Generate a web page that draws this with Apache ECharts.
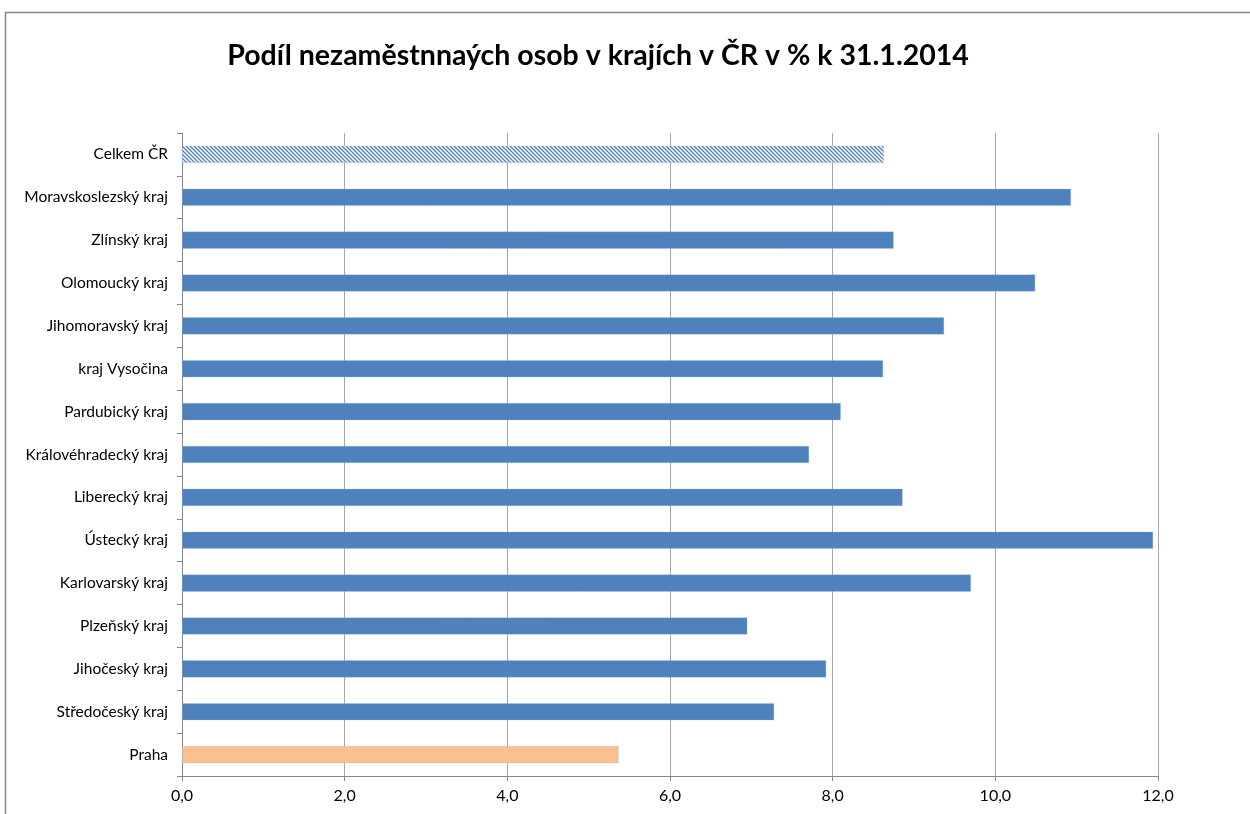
<!DOCTYPE html>
<html>
<head>
<meta charset="utf-8">
<script src="https://cdn.jsdelivr.net/npm/echarts@6/dist/echarts.min.js"></script>
<style>
  html, body { margin: 0; padding: 0; background: #fff; }
  #chart { width: 1250px; height: 814px; }
</style>
</head>
<body>
<div id="chart"></div>
<script>
const categories = ['Praha', 'Středočeský kraj', 'Jihočeský kraj', 'Plzeňský kraj', 'Karlovarský kraj',
  'Ústecký kraj', 'Liberecký kraj', 'Královéhradecký kraj', 'Pardubický kraj', 'kraj Vysočina',
  'Jihomoravský kraj', 'Olomoucký kraj', 'Zlínský kraj', 'Moravskoslezský kraj', 'Celkem ČR']
const values = [5.37, 7.28, 7.92, 6.95, 9.70, 11.94, 8.86, 7.71, 8.10, 8.62, 9.37, 10.49, 8.75, 10.93, 8.63]
const xTicks = [0, 2, 4, 6, 8, 10, 12]

// hatched fill for Celkem ČR
const hatch = document.createElement('canvas')
hatch.width = 4
hatch.height = 4
const hc = hatch.getContext('2d')
hc.fillStyle = '#ffffff'
hc.fillRect(0, 0, 4, 4)
hc.strokeStyle = '#4f81bd'
hc.lineWidth = 1.3
hc.beginPath()
hc.moveTo(-1, -1); hc.lineTo(5, 5)
hc.moveTo(-1, 3); hc.lineTo(1, 5)
hc.moveTo(3, -1); hc.lineTo(5, 1)
hc.stroke()

const barData = values.map((v, i) => {
  let color = '#4f81bd'
  if (categories[i] === 'Praha') color = '#fac090'
  if (categories[i] === 'Celkem ČR') color = { image: hatch, repeat: 'repeat' }
  return { value: v, itemStyle: { color: color } }
})

const chart = echarts.init(document.getElementById('chart'))
chart.setOption({
  animation: false,
  textStyle: { fontFamily: 'Lato' },
  title: {
    text: 'Podíl nezaměstnnaých osob v krajích v ČR v % k 31.1.2014',
    left: 593,
    top: 36,
    textAlign: 'center',
    textStyle: { fontFamily: 'Lato', fontSize: 28.5, fontWeight: 'bold', color: '#000' }
  },
  graphic: [{
    type: 'rect',
    shape: { x: 5.5, y: 12.5, width: 1260, height: 820 },
    style: { fill: 'none', stroke: '#878787', lineWidth: 1.5 },
    silent: true
  }],
  grid: { left: 182, right: 92, top: 133, bottom: 38 },
  xAxis: {
    type: 'value',
    min: 0,
    max: 12,
    interval: 2,
    axisLine: { show: true, lineStyle: { color: '#868686' } },
    axisTick: { show: true, length: 5, lineStyle: { color: '#868686' } },
    splitLine: { show: true, lineStyle: { color: '#a6a6a6', width: 1 } },
    axisLabel: {
      margin: 12,
      fontSize: 16,
      color: '#000',
      formatter: v => v.toFixed(1).replace('.', ',')
    }
  },
  yAxis: {
    type: 'category',
    data: categories,
    axisLine: { show: true, lineStyle: { color: '#868686' } },
    axisTick: { show: true, length: 5, lineStyle: { color: '#868686' } },
    axisLabel: { margin: 14, fontSize: 15.5, color: '#000' }
  },
  series: [{
    type: 'bar',
    data: barData,
    barWidth: '40%',
    itemStyle: { borderColor: 'rgba(160,190,230,0.6)', borderWidth: 0.5 }
  }]
})
</script>
</body>
</html>
